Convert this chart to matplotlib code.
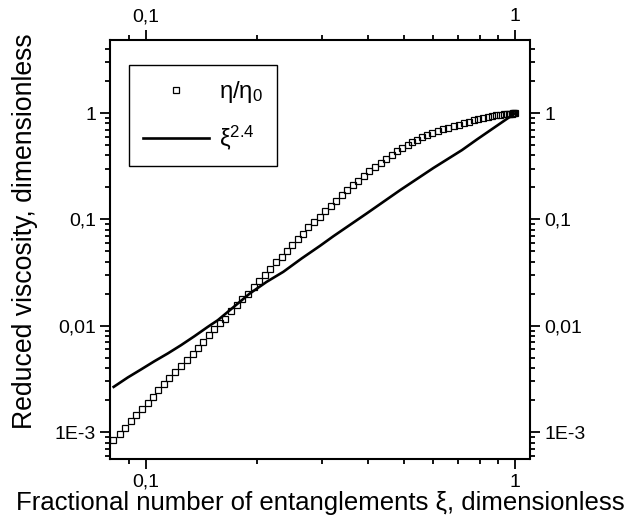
import matplotlib
matplotlib.use("Agg")
import matplotlib.pyplot as plt
from matplotlib.ticker import FixedLocator, FixedFormatter, LogLocator, NullFormatter

plt.rcParams['font.family'] = ['Liberation Sans', 'DejaVu Sans']
plt.rcParams['mathtext.fontset'] = 'custom'
plt.rcParams['mathtext.rm'] = 'Liberation Sans'
plt.rcParams['mathtext.it'] = 'Liberation Sans:italic'

# η/η0 data
xi_eta = [0.0818, 0.0850, 0.0879, 0.0911, 0.0941, 0.0977, 0.1013, 0.1049, 0.1082, 0.1121,
          0.1159, 0.1198, 0.1249, 0.1292, 0.1339, 0.1383, 0.1430, 0.1482, 0.1529, 0.1587,
          0.1637, 0.1700, 0.1761, 0.1820, 0.1886, 0.1958, 0.2020, 0.2097, 0.2168, 0.2251,
          0.2332, 0.2410, 0.2491, 0.2582, 0.2669, 0.2754, 0.2853, 0.2956, 0.3056, 0.3166,
          0.3279, 0.3391, 0.3512, 0.3633, 0.3761, 0.3898, 0.4029, 0.4183, 0.4325, 0.4471,
          0.4633, 0.4788, 0.4950, 0.5120, 0.5250, 0.5417, 0.5589, 0.5766, 0.5956, 0.6157,
          0.6367, 0.6580, 0.6804, 0.7021, 0.7261, 0.7491, 0.7708, 0.7938, 0.8174, 0.8412,
          0.8624, 0.8843, 0.9066, 0.9296, 0.9495, 0.9600, 0.9692, 0.9780, 0.9876, 0.9940, 1.0]
eta_ratio = [8.54e-4, 9.64e-4, 1.107e-3, 1.269e-3, 1.445e-3, 1.645e-3, 1.886e-3, 2.147e-3, 2.467e-3, 2.827e-3,
             3.198e-3, 3.666e-3, 4.175e-3, 4.753e-3, 5.447e-3, 6.204e-3, 7.065e-3, 8.115e-3, 9.302e-3, 1.052e-2,
             1.163e-2, 1.382e-2, 1.574e-2, 1.781e-2, 1.998e-2, 2.295e-2, 2.630e-2, 3.015e-2, 3.433e-2, 3.969e-2,
             4.452e-2, 5.070e-2, 5.698e-2, 6.491e-2, 7.326e-2, 8.414e-2, 9.438e-2, 0.1059, 0.1198, 0.1335,
             0.1497, 0.1683, 0.1875, 0.2089, 0.2309, 0.2556, 0.2829, 0.3105, 0.3408, 0.3716,
             0.4053, 0.4391, 0.4717, 0.5032, 0.5371, 0.5609, 0.5906, 0.6171, 0.6444, 0.6729,
             0.7026, 0.7273, 0.7547, 0.7762, 0.8052, 0.8283, 0.8595, 0.8780, 0.8975, 0.9170,
             0.9371, 0.9514, 0.9638, 0.9723, 0.9786, 0.9820, 0.9850, 0.9890, 0.9930, 0.9965, 1.0]

# ξ^2.4 line
xi_line = [0.0819, 0.0894, 0.0971, 0.1056, 0.1147, 0.1246, 0.1355, 0.1472, 0.1567, 0.1689,
           0.1913, 0.2124, 0.2356, 0.2642, 0.2962, 0.3218, 0.3963, 0.4880, 0.6006, 0.7171,
           0.7873, 1.0]
pow_line = [2.667e-3, 3.268e-3, 3.887e-3, 4.651e-3, 5.496e-3, 6.577e-3, 7.992e-3, 9.777e-3, 1.130e-2, 1.404e-2,
            2.015e-2, 2.591e-2, 3.217e-2, 4.300e-2, 5.650e-2, 6.950e-2, 0.1140, 0.1887, 0.3050, 0.4487,
            0.5650, 1.0]

x_ticks = [0.1, 1]
x_ticklabels = ['0,1', '1']
y_ticks = [1e-3, 1e-2, 1e-1, 1]
y_ticklabels = ['1E-3', '0,01', '0,1', '1']

fig = plt.figure(figsize=(6.32, 5.21), dpi=100)
ax = fig.add_axes([110.5 / 632, 62 / 521, 419 / 632, 419 / 521])
ax.set_xscale('log')
ax.set_yscale('log')

ax.plot(xi_eta, eta_ratio, linestyle='none', marker='s', markersize=4.2,
        markerfacecolor='none', markeredgecolor='black', markeredgewidth=0.9,
        label='η/η$_\\mathrm{0}$')
ax.plot(xi_line, pow_line, color='black', linewidth=1.9, label='ξ$^\\mathrm{2.4}$')

ax.set_xlim(0.0803, 1.092)
ax.set_ylim(5.6e-4, 4.86)

for axis, ticks, labels in ((ax.xaxis, x_ticks, x_ticklabels), (ax.yaxis, y_ticks, y_ticklabels)):
    axis.set_major_locator(FixedLocator(ticks))
    axis.set_major_formatter(FixedFormatter(labels))
    axis.set_minor_locator(LogLocator(base=10, subs=range(2, 10), numticks=20))
    axis.set_minor_formatter(NullFormatter())

ax.tick_params(which='both', direction='out', top=True, right=True,
               labeltop=True, labelright=True, width=1.3, labelsize=14)
ax.tick_params(which='major', length=7)
ax.tick_params(which='minor', length=3.5)
for sp in ax.spines.values():
    sp.set_linewidth(1.5)

ax.set_xlabel('Fractional number of entanglements ξ, dimensionless', fontsize=18.5, labelpad=0)
ax.set_ylabel('Reduced viscosity, dimensionless', fontsize=19.2)
ax.yaxis.set_label_coords(-0.173, 0.543)

leg = ax.legend(loc='upper left', bbox_to_anchor=(0.044, 0.94), borderaxespad=0,
                fontsize=17.2, handlelength=2.75, handletextpad=0.4, labelspacing=0.75,
                borderpad=0.6, fancybox=False, framealpha=1, edgecolor='black')
leg.get_frame().set_linewidth(1.0)

fig.savefig('out.png', dpi=100)
